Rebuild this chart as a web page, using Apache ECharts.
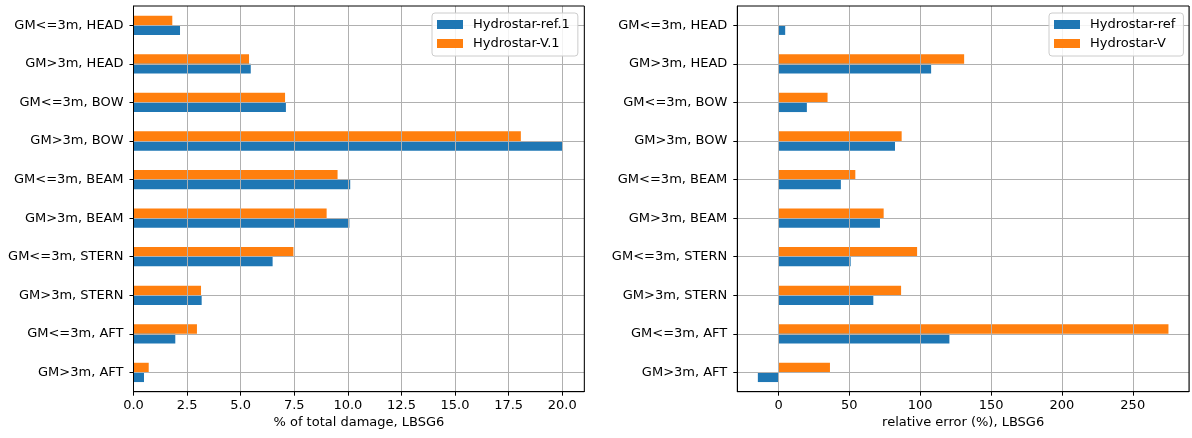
<!DOCTYPE html>
<html>
<head>
<meta charset="utf-8">
<script src="https://cdn.jsdelivr.net/npm/echarts@6/dist/echarts.min.js"></script>
<style>html,body{margin:0;padding:0;background:#fff}#c{width:1192px;height:438px}</style>
</head>
<body>
<div id="c"></div>
<script>
const categories = ['GM<=3m, HEAD', 'GM>3m, HEAD', 'GM<=3m, BOW', 'GM>3m, BOW', 'GM<=3m, BEAM', 'GM>3m, BEAM', 'GM<=3m, STERN', 'GM>3m, STERN', 'GM<=3m, AFT', 'GM>3m, AFT'];
const damageRef = [2.17, 5.47, 7.11, 20.0, 10.11, 10.07, 6.49, 3.18, 1.95, 0.49];
const damageV = [1.81, 5.39, 7.07, 18.07, 9.52, 9.01, 7.46, 3.15, 2.96, 0.71];
const errRef = [4.7, 107.7, 20.0, 82.2, 44.0, 71.6, 50.9, 66.9, 120.6, -14.6];
const errV = [null, 131.0, 34.6, 86.9, 54.2, 74.2, 97.8, 86.5, 275.2, 36.3];
const leftTitle = '% of total damage, LBSG6';
const rightTitle = 'relative error (%), LBSG6';
const leftNames = ['Hydrostar-ref.1', 'Hydrostar-V.1'];
const rightNames = ['Hydrostar-ref', 'Hydrostar-V'];

const FONT = 'DejaVu Sans';
const FS = 13;
const BLUE = '#1f77b4', ORANGE = '#ff7f0e';
const GRID = '#b0b0b0';

function xAxisCfg(gi, min, max, extra, fmt, title, showMin) {
  return Object.assign({
    type: 'value', gridIndex: gi, min: min, max: max, z: 5,
    name: title, nameLocation: 'middle', nameGap: 24,
    nameTextStyle: {fontFamily: FONT, fontSize: FS, color: '#000'},
    axisLine: {show: true, onZero: false, lineStyle: {color: '#000', width: 1}},
    axisTick: {show: true, length: 4, lineStyle: {color: '#000'}},
    axisLabel: {fontFamily: FONT, fontSize: FS, color: '#000', margin: 7, formatter: fmt, showMinLabel: showMin, showMaxLabel: false},
    splitLine: {show: true, lineStyle: {color: GRID, width: 1}}
  }, extra);
}
function yAxisCfg(gi) {
  return {
    type: 'category', gridIndex: gi, data: categories, inverse: true, z: 5,
    axisLine: {show: true, onZero: false, lineStyle: {color: '#000', width: 1}},
    axisTick: {show: true, length: 4, alignWithLabel: true, lineStyle: {color: '#000'}},
    axisLabel: {fontFamily: FONT, fontSize: FS, color: '#000', margin: 10},
    splitLine: {show: true, alignWithLabel: true, lineStyle: {color: GRID, width: 1}}
  };
}
function legendCfg(left, names) {
  return {
    orient: 'vertical', left: left, top: 13, z: 10,
    data: names, icon: 'rect', itemWidth: 26, itemHeight: 9, itemGap: 6,
    backgroundColor: 'rgba(255,255,255,0.85)', borderColor: '#cccccc', borderWidth: 1, borderRadius: 3,
    padding: [5, 8, 6, 5],
    textStyle: {fontFamily: FONT, fontSize: FS, color: '#000', lineHeight: 13, padding: [0, 0, 0, 5]}
  };
}
function barCfg(name, data, color, xi) {
  return {
    type: 'bar', name: name, data: data, xAxisIndex: xi, yAxisIndex: xi,
    barWidth: '25%', barGap: '0%', z: 2,
    itemStyle: {color: color}
  };
}

const chart = echarts.init(document.getElementById('c'), null, {renderer: 'canvas'});
chart.setOption({
  animation: false,
  textStyle: {fontFamily: FONT},
  grid: [
    {left: 133.5, right: 607.7, top: 6, bottom: 46.3, show: true, borderColor: '#000', borderWidth: 1, z: 6, backgroundColor: 'transparent'},
    {left: 737.3, right: 3, top: 6, bottom: 46.3, show: true, borderColor: '#000', borderWidth: 1, z: 6, backgroundColor: 'transparent'}
  ],
  xAxis: [
    xAxisCfg(0, 0, 21.03, {interval: 2.5}, v => v.toFixed(1), leftTitle, true),
    xAxisCfg(1, -29.1, 289.7, {minInterval: 50, maxInterval: 50}, v => String(Math.round(v)), rightTitle, false)
  ],
  yAxis: [yAxisCfg(0), yAxisCfg(1)],
  legend: [legendCfg(432, leftNames), legendCfg(1049, rightNames)],
  series: [
    barCfg(leftNames[1], damageV, ORANGE, 0),
    barCfg(leftNames[0], damageRef, BLUE, 0),
    barCfg(rightNames[1], errV, ORANGE, 1),
    barCfg(rightNames[0], errRef, BLUE, 1)
  ]
});
</script>
</body>
</html>
